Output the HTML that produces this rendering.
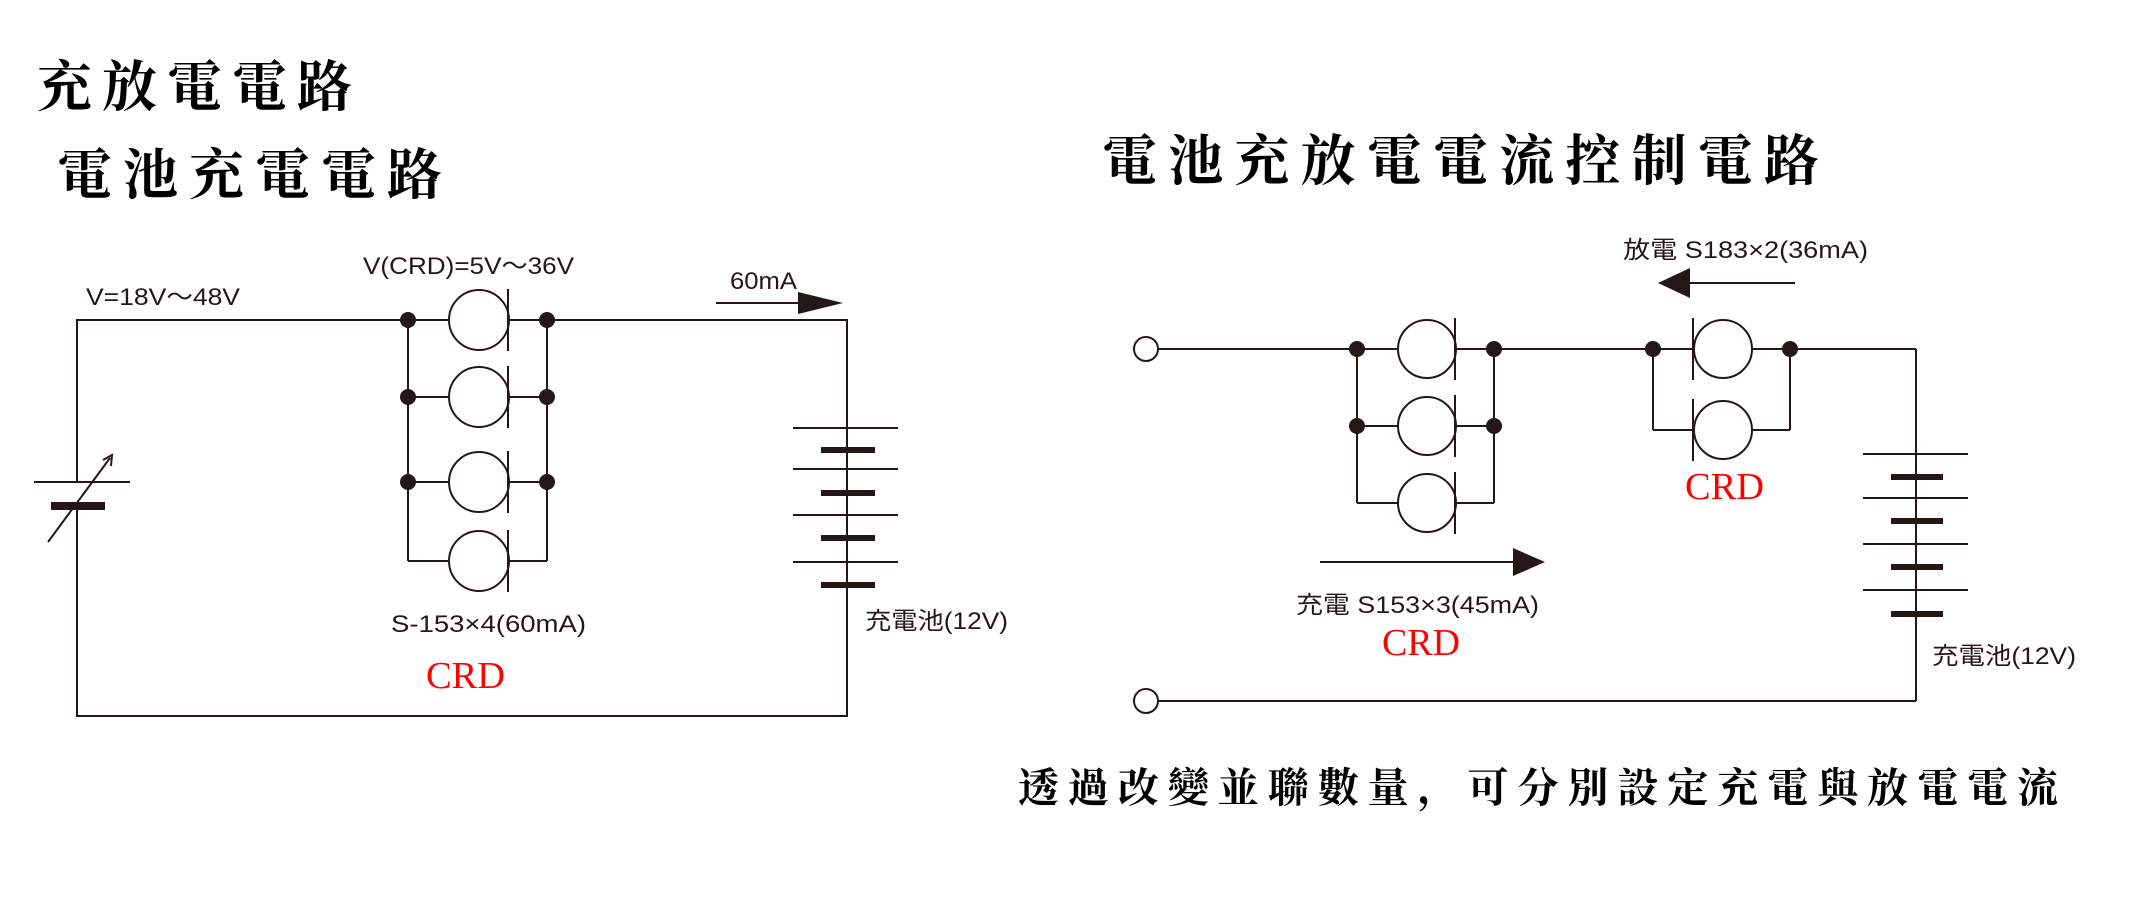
<!DOCTYPE html>
<html><head><meta charset="utf-8"><style>
html,body{margin:0;padding:0;background:#fff;}
svg{display:block;}
.cjk{font-family:"Liberation Serif","Noto Serif CJK SC",serif;font-weight:bold;fill:#000;}
.lbl{font-family:"Liberation Sans","Noto Sans CJK JP",sans-serif;fill:#231815;font-size:24px;}
.crd{font-family:"Liberation Serif",serif;fill:#ff0000;font-size:38px;}
</style></head><body>
<svg width="2151" height="911" viewBox="0 0 2151 911" xmlns="http://www.w3.org/2000/svg">
<g class="cjk">
<text x="37" y="106" font-size="55" textLength="315" lengthAdjust="spacing">充放電電路</text>
<text x="57" y="194" font-size="55" textLength="385" lengthAdjust="spacing">電池充電電路</text>
<text x="1102" y="180" font-size="55" textLength="717" lengthAdjust="spacing">電池充放電電流控制電路</text>
<text x="1018" y="802" font-size="41" textLength="1040" lengthAdjust="spacing">透過改變並聯數量，可分別設定充電與放電電流</text>
</g>

<g stroke="#231815" stroke-width="2" fill="none">
<polyline points="77,482 77,320 847,320 847,428"/>
<polyline points="77,506 77,716 847,716 847,585"/>
<line x1="34" y1="482" x2="130" y2="482"/>
<line x1="51" y1="506" x2="105" y2="506" stroke-width="8"/>
<line x1="48" y1="542" x2="110" y2="458"/>
<line x1="408" y1="320" x2="408" y2="561"/>
<line x1="547" y1="320" x2="547" y2="561"/>
<line x1="408" y1="397" x2="547" y2="397"/>
<line x1="408" y1="482" x2="547" y2="482"/>
<line x1="408" y1="561" x2="547" y2="561"/>
<line x1="847" y1="428" x2="847" y2="585"/>
<line x1="793" y1="428" x2="898" y2="428"/>
<line x1="793" y1="469" x2="898" y2="469"/>
<line x1="793" y1="515" x2="898" y2="515"/>
<line x1="793" y1="562" x2="898" y2="562"/>
<line x1="716" y1="303" x2="800" y2="303"/>

<line x1="1159" y1="349" x2="1916" y2="349"/>
<line x1="1916" y1="349" x2="1916" y2="701"/>
<line x1="1159" y1="701" x2="1916" y2="701"/>
<line x1="1357" y1="349" x2="1357" y2="503"/>
<line x1="1494" y1="349" x2="1494" y2="503"/>
<line x1="1357" y1="426" x2="1494" y2="426"/>
<line x1="1357" y1="503" x2="1494" y2="503"/>
<line x1="1653" y1="349" x2="1653" y2="430"/>
<line x1="1790" y1="349" x2="1790" y2="430"/>
<line x1="1653" y1="430" x2="1790" y2="430"/>
<line x1="1863" y1="454" x2="1968" y2="454"/>
<line x1="1863" y1="498" x2="1968" y2="498"/>
<line x1="1863" y1="544" x2="1968" y2="544"/>
<line x1="1863" y1="590" x2="1968" y2="590"/>
<line x1="1690" y1="283" x2="1795" y2="283"/>
<line x1="1320" y1="562" x2="1515" y2="562"/>
</g>
<polygon points="843,303 798,292 798,314" fill="#231815"/>
<polygon points="1658,283 1690,268 1690,298" fill="#231815"/>
<polygon points="1545,562 1513,548 1513,576" fill="#231815"/>
<polyline points="103,460 112,455 111,466" fill="none" stroke="#231815" stroke-width="2"/>

<g fill="#231815">
<rect x="821" y="447" width="54" height="6"/>
<rect x="821" y="490" width="54" height="6"/>
<rect x="821" y="535" width="54" height="6"/>
<rect x="821" y="582" width="54" height="6"/>
<rect x="1891" y="474" width="52" height="6"/>
<rect x="1891" y="518" width="52" height="6"/>
<rect x="1891" y="564" width="52" height="6"/>
<rect x="1891" y="611" width="52" height="6"/>
</g>

<g stroke="#231815" stroke-width="2" fill="#fff">
<circle cx="479" cy="320" r="30"/><circle cx="479" cy="397" r="30"/>
<circle cx="479" cy="482" r="30"/><circle cx="479" cy="561" r="30"/>
<circle cx="1427" cy="349" r="29"/><circle cx="1427" cy="426" r="29"/><circle cx="1427" cy="503" r="29"/>
<circle cx="1723" cy="349" r="29"/><circle cx="1723" cy="430" r="29"/>
<circle cx="1146" cy="349" r="12"/><circle cx="1146" cy="701" r="12"/>
</g>
<g stroke="#231815" stroke-width="2">
<line x1="508" y1="289" x2="508" y2="351"/><line x1="508" y1="366" x2="508" y2="428"/>
<line x1="508" y1="451" x2="508" y2="513"/><line x1="508" y1="530" x2="508" y2="592"/>
<line x1="1455" y1="318" x2="1455" y2="380"/><line x1="1455" y1="395" x2="1455" y2="457"/><line x1="1455" y1="472" x2="1455" y2="534"/>
<line x1="1693" y1="318" x2="1693" y2="380"/><line x1="1693" y1="399" x2="1693" y2="461"/>
</g>
<g fill="#231815">
<circle cx="408" cy="320" r="8"/><circle cx="547" cy="320" r="8"/>
<circle cx="408" cy="397" r="8"/><circle cx="547" cy="397" r="8"/>
<circle cx="408" cy="482" r="8"/><circle cx="547" cy="482" r="8"/>
<circle cx="1357" cy="349" r="8"/><circle cx="1494" cy="349" r="8"/>
<circle cx="1357" cy="426" r="8"/><circle cx="1494" cy="426" r="8"/>
<circle cx="1653" cy="349" r="8"/><circle cx="1790" cy="349" r="8"/>
</g>

<g class="lbl">
<text x="363" y="274" textLength="211" lengthAdjust="spacingAndGlyphs">V(CRD)=5V～36V</text>
<text x="86" y="305" textLength="154" lengthAdjust="spacingAndGlyphs">V=18V～48V</text>
<text x="730" y="289" textLength="67" lengthAdjust="spacingAndGlyphs">60mA</text>
<text x="391" y="632" textLength="195" lengthAdjust="spacingAndGlyphs">S-153×4(60mA)</text>
<text x="865" y="629" textLength="143" lengthAdjust="spacingAndGlyphs">充電池(12V)</text>
<text x="1623" y="258" textLength="245" lengthAdjust="spacingAndGlyphs">放電 S183×2(36mA)</text>
<text x="1296" y="613" textLength="243" lengthAdjust="spacingAndGlyphs">充電 S153×3(45mA)</text>
<text x="1932" y="664" textLength="144" lengthAdjust="spacingAndGlyphs">充電池(12V)</text>
</g>
<g class="crd">
<text x="426" y="688" textLength="79" lengthAdjust="spacingAndGlyphs">CRD</text>
<text x="1685" y="499" textLength="79" lengthAdjust="spacingAndGlyphs">CRD</text>
<text x="1382" y="655" textLength="78" lengthAdjust="spacingAndGlyphs">CRD</text>
</g>
</svg>
</body></html>
